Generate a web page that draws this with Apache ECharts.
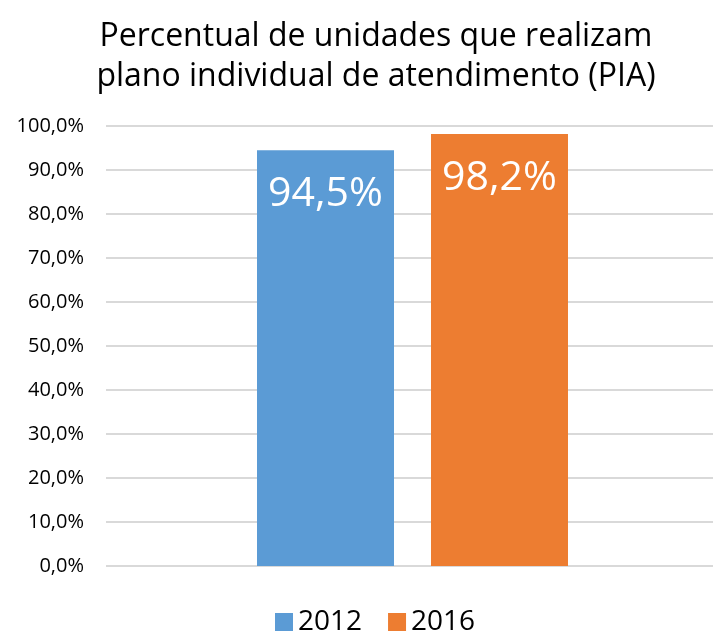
<!DOCTYPE html>
<html>
<head>
    <meta charset="utf-8">
    <title>PIA</title>
    <script src="https://cdn.jsdelivr.net/npm/echarts@6/dist/echarts.min.js"></script>
    <style>
        html, body { margin: 0; padding: 0; background: #fff; }
        #main { width: 713px; height: 632px; }
    </style>
</head>
<body>
    <div id="main"></div>
</body>
<script type="text/javascript">
    // dados do gráfico
    var categorias = [''];
    var anos = ['2012', '2016'];
    var valores2012 = [94.5];
    var valores2016 = [98.2];
    var cores = ['#5b9bd5', '#ed7d31'];

    var fonte = 'Open Sans';

    function rotulo(v) {
        return v.toFixed(1).replace('.', ',') + '%';
    }

    var chart = echarts.init(document.getElementById('main'));
    chart.setOption({
        backgroundColor: '#fff',
        animation: false,
        title: {
            text: 'Percentual de unidades que realizam\nplano individual de atendimento (PIA)',
            left: 371,
            top: 12,
            textAlign: 'center',
            textStyle: {
                fontFamily: fonte,
                fontSize: 32,
                fontWeight: 'normal',
                color: '#000',
                lineHeight: 40
            }
        },
        legend: {
            data: anos,
            bottom: -9,
            left: 270,
            itemWidth: 18,
            itemHeight: 18,
            itemGap: 26,
            icon: 'rect',
            textStyle: {
                fontFamily: fonte,
                fontSize: 28,
                color: '#000'
            }
        },
        grid: {
            left: 106,
            width: 613,
            top: 126,
            bottom: 66,
            outerBoundsMode: 'none'
        },
        xAxis: {
            type: 'category',
            data: categorias,
            axisLine: { show: false },
            axisTick: { show: false },
            axisLabel: { show: false }
        },
        yAxis: {
            type: 'value',
            min: 0,
            max: 100,
            interval: 10,
            axisLine: { show: false },
            axisTick: { show: false },
            axisLabel: {
                fontFamily: fonte,
                fontSize: 20,
                color: '#000',
                margin: 22,
                formatter: function (v) { return rotulo(v); }
            },
            splitLine: {
                lineStyle: { color: '#d9d9d9', width: 2 }
            }
        },
        series: [{
            name: anos[0],
            type: 'bar',
            data: valores2012,
            barWidth: 137,
            barGap: '27%',
            itemStyle: { color: cores[0] },
            label: {
                show: true,
                position: 'insideTop',
                distance: 24,
                color: '#fff',
                fontFamily: fonte,
                fontSize: 41,
                formatter: function (p) { return rotulo(p.value); }
            }
        }, {
            name: anos[1],
            type: 'bar',
            data: valores2016,
            barWidth: 137,
            itemStyle: { color: cores[1] },
            label: {
                show: true,
                position: 'insideTop',
                distance: 24,
                color: '#fff',
                fontFamily: fonte,
                fontSize: 41,
                formatter: function (p) { return rotulo(p.value); }
            }
        }]
    });
</script>
</html>
